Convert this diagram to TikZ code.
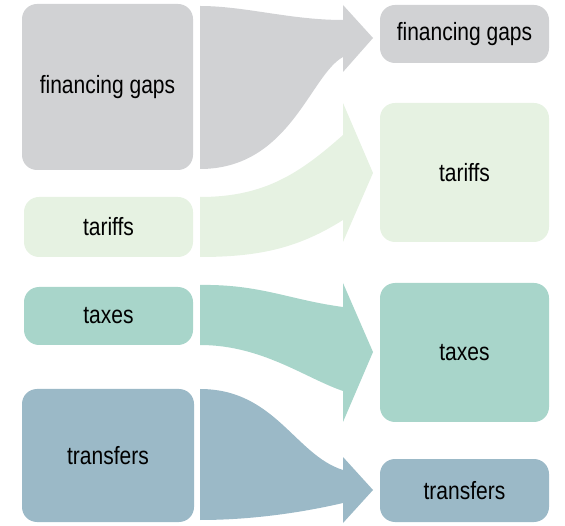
\documentclass[tikz,border=0pt]{standalone}
\usepackage{fontspec}
\setmainfont{Liberation Sans}[FakeStretch=0.84]
\definecolor{cgray}{HTML}{D1D2D4}
\definecolor{cgreen}{HTML}{E6F2E2}
\definecolor{cteal}{HTML}{A8D5CA}
\definecolor{cblue}{HTML}{9BB9C7}
\tikzset{
  box/.style={rectangle, rounded corners=15pt, inner sep=0pt, font=\fontsize{25}{29}\selectfont, text=black},
  flow/.style={draw=none}
}
\begin{document}
\begin{tikzpicture}[x=1pt,y=-1pt]
\useasboundingbox (0,0) rectangle (565,526);
% left boxes
\node[box, fill=cgray, minimum width=171pt, minimum height=166pt] (lfg) at (107.5,87) {financing gaps};
\node[box, fill=cgreen, minimum width=169pt, minimum height=60pt] (ltar) at (108.5,227) {tariffs};
\node[box, fill=cteal, minimum width=169pt, minimum height=58pt] (ltax) at (108.5,316) {taxes};
\node[box, fill=cblue, minimum width=172pt, minimum height=133pt] (ltra) at (108,455.5) {transfers};
% right boxes
\node[box, fill=cgray, minimum width=169pt, minimum height=58pt] (rfg) at (464.5,34) {financing gaps};
\node[box, fill=cgreen, minimum width=169pt, minimum height=139pt] (rtar) at (464.5,172.5) {tariffs};
\node[box, fill=cteal, minimum width=169pt, minimum height=139pt] (rtax) at (464.5,352.5) {taxes};
\node[box, fill=cblue, minimum width=169pt, minimum height=63pt] (rtra) at (464.5,490.5) {transfers};
% flows
\fill[cgray] (200,6) .. controls (245,6) and (290,20) .. (343,20) -- (343,5) -- (373,38) -- (343,72) -- (343,57)
  .. controls (310,75) and (290,169) .. (200,169) -- cycle;
\fill[cgreen] (200,197) .. controls (265,197) and (300,173) .. (343,135) -- (343,103) -- (373,173) -- (343,242) -- (343,220)
  .. controls (300,247) and (262,257) .. (200,257) -- cycle;
\fill[cteal] (200,285) .. controls (260,284) and (290,300) .. (343,307) -- (343,283) -- (373,352) -- (343,422) -- (343,391)
  .. controls (305,378) and (262,345) .. (200,345) -- cycle;
\fill[cblue] (200,389) .. controls (275,389) and (295,455) .. (343,470) -- (343,457) -- (373,490) -- (343,523) -- (343,503)
  .. controls (300,513) and (250,520) .. (200,520) -- cycle;
\end{tikzpicture}
\end{document}
